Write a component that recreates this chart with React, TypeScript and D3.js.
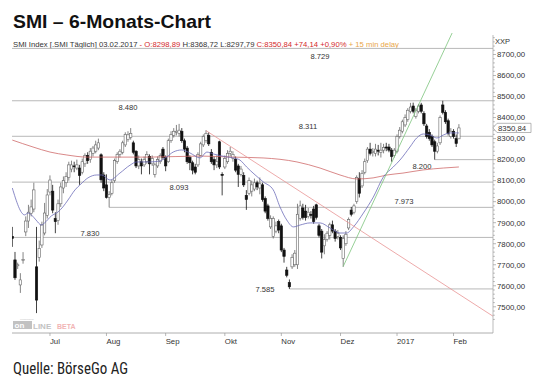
import React from "react";
import * as d3 from "d3";

// Daily candles 13.06.2016 – 03.02.2017 (SMI)
const opens = [7835,7723,7695,7604,7720,7856,7908,7945,7965,7690,7735,7794,7851,7935,8046,8050,7920,7910,7990,8065,8090,8115,8155,8170,8160,8160,8140,8180,8220,8200,8230,8240,8255,8223,8127,8080,8020,8040,8100,8190,8225,8235,8270,8295,8305,8280,8240,8170,8190,8175,8190,8215,8180,8130,8170,8190,8250,8210,8190,8290,8315,8330,8325,8335,8290,8255,8210,8185,8165,8175,8220,8270,8290,8315,8235,8200,8175,8285,8130,8165,8190,8230,8205,8200,8170,8130,8125,8030,8040,8050,8060,8090,8065,8080,8015,7980,7880,7835,7860,7905,7885,7770,7675,7615,7690,7700,7700,7920,7970,7955,7930,7940,7965,7985,7885,7860,7790,7820,7840,7890,7860,7835,7830,7730,7800,7875,7960,7950,8000,8110,8075,8140,8195,8250,8235,8230,8245,8235,8245,8260,8260,8245,8220,8240,8310,8335,8365,8390,8430,8455,8405,8430,8460,8420,8360,8330,8310,8285,8240,8280,8460,8425,8385,8310,8335,8300,8298.89];
const highs = [7880,7761,7710,7660,7760,7930,7985,8010,8090,7880,7815,7905,7994,8060,8125,8080,7950,8010,8090,8120,8140,8190,8195,8190,8200,8175,8205,8230,8235,8255,8265,8290,8300,8230,8140,8130,8050,8105,8205,8235,8250,8290,8330,8335,8350,8290,8245,8220,8205,8215,8240,8225,8220,8185,8215,8230,8260,8220,8300,8335,8350,8365,8370,8350,8300,8265,8220,8195,8180,8235,8285,8320,8340,8330,8250,8215,8220,8290,8140,8220,8245,8260,8240,8215,8180,8170,8140,8055,8115,8100,8110,8100,8115,8090,8025,7990,7935,7930,7905,7915,7895,7780,7690,7630,7750,7770,7990,8005,7990,7985,7970,7955,7980,7990,7895,7870,7845,7860,7900,7910,7870,7865,7840,7840,7860,7925,7975,7990,8125,8140,8150,8205,8260,8280,8255,8275,8270,8280,8275,8280,8275,8255,8255,8320,8355,8390,8415,8445,8470,8471,8445,8465,8470,8430,8370,8345,8320,8295,8280,8410,8480,8435,8395,8350,8345,8320,8368.72];
const lows = [7785,7628,7680,7566,7705,7836,7875,7930,7950,7470,7715,7780,7840,7920,8030,7945,7850,7890,7975,8040,8070,8100,8140,8140,8150,8080,8130,8165,8180,8185,8215,8230,8245,8090,8050,8015,7973,8030,8090,8180,8210,8225,8260,8285,8295,8225,8160,8155,8130,8165,8180,8130,8170,8115,8160,8180,8200,8145,8185,8280,8305,8315,8310,8280,8235,8180,8150,8130,8130,8165,8215,8260,8280,8265,8180,8150,8160,8155,8030,8155,8180,8215,8190,8140,8070,8120,8070,7961,8030,8025,8050,8055,8035,8000,7945,7910,7870,7825,7850,7850,7760,7710,7640,7585,7680,7690,7680,7910,7915,7910,7920,7920,7895,7915,7830,7730,7750,7810,7820,7850,7810,7820,7770,7690,7790,7865,7930,7940,7990,8020,8065,8130,8185,8220,8215,8215,8220,8210,8230,8240,8235,8190,8210,8230,8300,8325,8355,8380,8420,8420,8395,8420,8420,8360,8300,8290,8260,8200,8230,8270,8415,8370,8315,8300,8300,8260,8297.79];
const closes = [7825,7638,7700,7628,7725,7908,7950,7975,8056,7532,7778,7889,7946,8032,8103,7960,7905,7990,8070,8100,8120,8175,8175,8166,8175,8125,8190,8220,8195,8240,8255,8270,8280,8104,8065,8020,8035,8090,8195,8225,8240,8280,8320,8318,8325,8235,8170,8200,8170,8200,8225,8180,8205,8175,8200,8220,8210,8170,8290,8320,8335,8335,8340,8290,8250,8190,8185,8150,8140,8225,8275,8310,8325,8275,8190,8175,8190,8165,8125,8205,8230,8240,8225,8150,8130,8155,8080,8010,8100,8080,8090,8070,8085,8010,7955,7920,7920,7920,7885,7865,7770,7740,7650,7595,7735,7755,7940,7980,7925,7925,7950,7935,7905,7925,7840,7760,7820,7850,7890,7860,7825,7850,7780,7825,7845,7915,7940,7980,8115,8040,8135,8190,8250,8230,8240,8250,8240,8245,8258,8255,8245,8215,8245,8310,8340,8380,8400,8435,8450,8430,8435,8455,8430,8370,8310,8300,8270,8240,8265,8400,8425,8380,8325,8335,8310,8276.7,8350.84];

// Moving averages read at sample points: [candle index, value]
const ma20: [number, number][] = [[0,8065],[4.6,7937],[5.8,7946],[7.1,7937],[8.8,7913],[10.8,7889],[12,7899],[14.5,7932],[17,7951],[18.8,7975],[20.7,8008],[23.3,8056],[25.5,8084],[28.1,8113],[31.4,8127],[33.2,8127],[36.3,8103],[40,8136],[43.8,8174],[46.2,8189],[51.2,8189],[54.9,8194],[57.4,8213],[59.8,8236],[63,8246],[66,8232],[69.8,8208],[72.3,8236],[74.7,8227],[79.7,8213],[82.2,8208],[84.6,8198],[87.1,8165],[93.3,8094],[97,8056],[99.5,7975],[102,7913],[104.5,7880],[107,7889],[110.7,7899],[114.4,7899],[118.1,7875],[121.8,7851],[124.3,7851],[126.8,7880],[130.5,7946],[134.2,8022],[137.9,8117],[141.6,8165],[144.1,8198],[147.8,8260],[150.3,8303],[152.8,8322],[155.3,8317],[157.8,8303],[160.2,8317],[162.7,8327],[166,8327]];
const ma200: [number, number][] = [[0,8293],[7.7,8260],[14,8236],[20.3,8222],[27.8,8212],[36.3,8212],[51.2,8212],[69.8,8217],[82,8212],[93.2,8208],[105.8,8189],[114.4,8160],[121.8,8127],[128.1,8108],[134.1,8113],[139.3,8127],[145.2,8136],[152.7,8151],[160.2,8160],[166,8165]];

// Trend lines: [index, value] end points
const downTrend: [number, number][] = [[72, 8338], [178.7, 7455]];
const upTrend: [number, number][] = [[123, 7692], [164.5, 8830]];

// Horizontal levels
const levelValues = [8729, 8480, 8311, 8200, 8093, 7973, 7830, 7585];
const levelLabels = ["8.729", "8.480", "8.311", "8.200", "8.093", "7.973", "7.830", "7.585"];
const levelStartIdx = [null, null, null, 157, null, 36, null, 103];
const levelLabelX = [320, 128, 308, 422, 179, 404, 90, 265];
const levelLabelDy = [11, 9.7, -7.3, 9, 8, -3.8, -1.2, 2.8];

// x axis
const monthLabels = ["Jul", "Aug", "Sep", "Okt", "Nov", "Dez", "2017", "Feb"];
const monthIdx = [14, 35, 57, 79, 100, 122, 143, 164];

const yTickValues = [7500, 7600, 7700, 7800, 7900, 8000, 8100, 8200, 8300, 8400, 8500, 8600, 8700];
const lastPrice = 8350.84;

const FONT = "'Liberation Sans', Arial, Helvetica, sans-serif";

export default function App() {
  const x = d3.scaleLinear().domain([0, opens.length - 1]).range([12.3, 458.9]);
  const y = d3.scaleLinear().domain([7500, 8700]).range([306.8, 54.5]);
  const plotL = 12, plotR = 493, plotT = 33, plotB = 333;

  const lineGen = d3
    .line<[number, number]>()
    .x((d) => x(d[0]))
    .y((d) => y(d[1]))
    .curve(d3.curveMonotoneX);
  const straight = d3
    .line<[number, number]>()
    .x((d) => x(d[0]))
    .y((d) => y(d[1]));

  const minorTicks = d3.range(7440, 8820, 20).filter((v) => y(v) >= plotT + 2 && y(v) <= plotB - 1);
  const bw = 2.4;
  const py = y(lastPrice);

  return (
    <svg
      width={540}
      height={381}
      style={{ position: "absolute", left: 0, top: 0, display: "block" }}
      fontFamily={FONT}
    >
      <defs>
        <clipPath id="plotClip">
          <rect x={plotL} y={plotT} width={plotR - plotL} height={plotB - plotT} />
        </clipPath>
      </defs>
      <rect x={0} y={0} width={540} height={381} fill="#fff" />

      {/* Title */}
      <text x={13} y={27.5} fontSize={19} fontWeight="bold" fill="#111" textLength={198} lengthAdjust="spacingAndGlyphs">
        SMI – 6-Monats-Chart
      </text>
      <text x={13} y={46.5} fontSize={7.3} fill="#333" textLength={386} lengthAdjust="spacingAndGlyphs">
        SMI Index [.SMI Täglich] 03.02.2017{" "}
        <tspan fill="#d42a2a">- O:8298,89</tspan> H:8368,72 L:8297,79{" "}
        <tspan fill="#d42a2a">C:8350,84 +74,14 +0,90%</tspan>
        <tspan fill="#e9a64a"> + 15 min delay</tspan>
      </text>
      <text x={495} y={44} fontSize={7.5} fill="#333">XXP</text>

      {/* Level lines */}
      <g>
        {levelValues.map((v, k) => {
          const sIdx = levelStartIdx[k];
          const x1 = sIdx === null ? plotL : x(sIdx as number);
          return (
            <line key={"lv" + k} x1={x1} x2={plotR} y1={y(v)} y2={y(v)} stroke="#b8b8b8" strokeWidth={1} />
          );
        })}
        {levelValues.map((v, k) => (
          <text key={"ll" + k} x={levelLabelX[k]} y={y(v) + levelLabelDy[k]} fontSize={7.6} fill="#333" textAnchor="middle">
            {levelLabels[k]}
          </text>
        ))}
      </g>

      {/* Candles */}
      <g clipPath="url(#plotClip)">
        {opens.map((o, i) => {
          const c = closes[i];
          const up = c >= o;
          const cx = x(i);
          const top = y(Math.max(o, c));
          const bot = y(Math.min(o, c));
          const h = Math.max(bot - top, 0.8);
          return (
            <g key={"c" + i}>
              <line x1={cx} x2={cx} y1={y(highs[i])} y2={y(lows[i])} stroke={up ? "#666" : "#111"} strokeWidth={0.8} />
              <rect
                x={cx - bw / 2}
                y={top}
                width={bw}
                height={h}
                fill={up ? "#fff" : "#111"}
                stroke={up ? "#666" : "#111"}
                strokeWidth={0.6}
              />
            </g>
          );
        })}
      </g>

      {/* Moving averages and trend lines */}
      <g clipPath="url(#plotClip)" fill="none">
        <path d={lineGen(ma200) || ""} stroke="#cc6262" strokeWidth={0.75} />
        <path d={lineGen(ma20) || ""} stroke="#6464b4" strokeWidth={0.75} />
        <path d={straight(downTrend) || ""} stroke="#e89494" strokeWidth={0.8} />
        <path d={straight(upTrend) || ""} stroke="#7cc47c" strokeWidth={0.8} />
      </g>

      {/* Right axis */}
      <line x1={plotR} x2={plotR} y1={plotT + 2} y2={plotB} stroke="#aaa" strokeWidth={0.8} />
      {minorTicks.map((v) => (
        <line key={"mt" + v} x1={plotR} x2={plotR + (v % 100 === 0 ? 3 : 1.8)} y1={y(v)} y2={y(v)} stroke="#999" strokeWidth={0.7} />
      ))}
      {yTickValues.map((v) => (
        <text key={"yt" + v} x={497} y={y(v) + 2.8} fontSize={7.8} fill="#333">
          {v + ",00"}
        </text>
      ))}
      <path
        d={`M${plotR},${py} L${plotR + 4},${py - 4.6} L531,${py - 4.6} L531,${py + 4.6} L${plotR + 4},${py + 4.6} Z`}
        fill="#fff"
        stroke="#999"
        strokeWidth={0.7}
      />
      <text x={498} y={py + 2.8} fontSize={7.8} fill="#333">8350,84</text>

      {/* Bottom axis */}
      <line x1={plotL} x2={plotR} y1={plotB} y2={plotB} stroke="#999" strokeWidth={0.8} />
      {monthIdx.map((idx, k) => (
        <g key={"m" + k}>
          <line x1={x(idx)} x2={x(idx)} y1={plotB} y2={plotB + 3} stroke="#999" strokeWidth={0.7} />
          <text x={x(idx)} y={344} fontSize={7.8} fill="#333">
            {monthLabels[k]}
          </text>
        </g>
      ))}

      {/* Watermark */}
      <g opacity={0.85}>
        <rect x={13} y={321} width={19} height={8} fill="#b8b8b8" />
        <text x={14.5} y={328.2} fontSize={8} fontWeight="bold" fill="#fff">on</text>
        <text x={33} y={328.5} fontSize={8} fontWeight="bold" fill="#b8b8b8">LINE</text>
        <text x={57} y={328.5} fontSize={7} fontWeight="bold" fill="#f0a8a8">BETA</text>
        <text x={20} y={320} fontSize={2.5} fill="#bbb">Tradingdesk</text>
      </g>

      {/* Source */}
      <text
        x={13}
        y={374}
        fontSize={16}
        fill="#222"
        fontFamily="'Liberation Sans Narrow', 'Roboto Condensed', 'Open Sans', sans-serif"
        textLength={115}
        lengthAdjust="spacingAndGlyphs"
      >
        Quelle: BörseGo AG
      </text>
    </svg>
  );
}
